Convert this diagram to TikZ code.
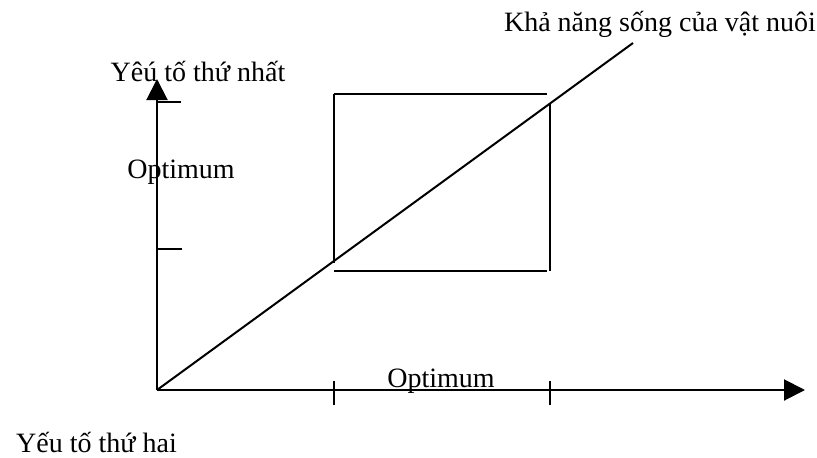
\documentclass[tikz,border=0pt]{standalone}
\usepackage{fontspec}
\setmainfont{Liberation Serif}
\usetikzlibrary{arrows.meta}
\begin{document}
\begin{tikzpicture}[x=1pt,y=-1pt,
  ln/.style={line width=2pt},
  axis/.style={ln,-{Triangle[length=21pt,width=21pt]}},
  lbl/.style={anchor=base,inner sep=0pt,font=\fontsize{28}{30}\selectfont}]
\useasboundingbox (0,0) rectangle (817,458);
% coordinates
\coordinate (O) at (157,390);
\coordinate (Ytip) at (157,79);
\coordinate (Xtip) at (805,390);
\coordinate (Dend) at (633,43);
\coordinate (bTL) at (334,94);
\coordinate (bTR) at (547,94);
\coordinate (bLB) at (334,263);
\coordinate (bBL) at (334,271);
\coordinate (bBR) at (547,271);
\coordinate (bRT) at (550,103);
\coordinate (bRB) at (550,271);
\coordinate (yt1a) at (157,102);
\coordinate (yt1b) at (181,102);
\coordinate (yt2a) at (157,249);
\coordinate (yt2b) at (182,249);
\coordinate (xt1a) at (334,381);
\coordinate (xt1b) at (334,405);
\coordinate (xt2a) at (550,381);
\coordinate (xt2b) at (550,405);
% labels
\node[lbl] (ylab) at (198,81) {Yêú tố thứ nhất};
\node[lbl] (dlab) at (660,31) {Khả năng sống của vật nuôi};
\node[lbl] (optY) at (181,178) {Optimum};
\node[lbl] (optX) at (441,387) {Optimum};
\node[lbl] (xlab) at (96.5,452) {Yếu tố thứ hai};
% axes
\draw[axis] (O) -- (Ytip);
\draw[axis] (O) -- (Xtip);
% ticks
\draw[ln] (yt1a) -- (yt1b);
\draw[ln] (yt2a) -- (yt2b);
\draw[ln] (xt1a) -- (xt1b);
\draw[ln] (xt2a) -- (xt2b);
% box
\draw[ln] (bTL) -- (bTR);
\draw[ln] (bTL) -- (bLB);
\draw[ln] (bBL) -- (bBR);
\draw[ln] (bRT) -- (bRB);
% diagonal
\draw[ln] (O) -- (Dend);
\end{tikzpicture}
\end{document}
